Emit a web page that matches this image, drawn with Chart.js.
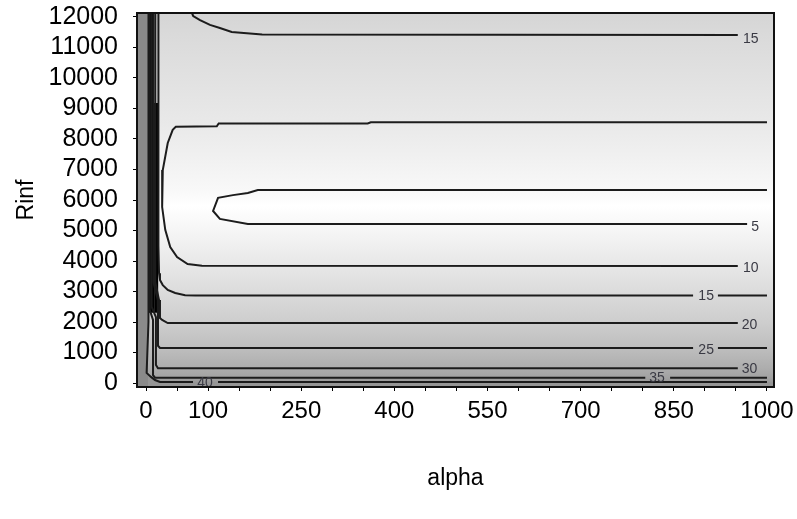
<!DOCTYPE html>
<html>
<head>
<meta charset="utf-8">
<script src="https://cdn.jsdelivr.net/npm/chart.js@4.4.0/dist/chart.umd.min.js"></script>
<style>
  html, body { margin: 0; padding: 0; background: #fff; }
</style>
</head>
<body>
<canvas id="chart" width="797" height="519"></canvas>
<script>
// Axis ranges and ticks
const alphaMin = -14.5, alphaMax = 1011.3;
const rinfMin = -131, rinfMax = 12131;
const xTickVals = [0, 50, 100, 150, 200, 250, 300, 350, 400, 450, 500, 550, 600, 650, 700, 750, 800, 850, 900, 950, 1000];
const xLabelVals = [0, 100, 250, 400, 550, 700, 850, 1000];
const yTickVals = [0, 1000, 2000, 3000, 4000, 5000, 6000, 7000, 8000, 9000, 10000, 11000, 12000];

// Contour lines as [alpha, Rinf] pairs (null Rinf = gap for the label)
const contour5 = [[1000, 6330], [180, 6330], [164, 6230], [140, 6160], [116, 6070], [108, 5640], [119, 5380], [164, 5210], [968, 5210]];
const contour10 = [[1000, 8550], [362, 8550], [357, 8510], [117, 8510], [114, 8420], [48, 8400], [43, 8300], [35, 7870], [27, 6980], [26, 5770], [31, 5020], [39, 4460], [50, 4130], [67, 3900], [90, 3845], [953, 3840]];
const contour15Top = [[74, 12131], [76, 12033], [87, 11900], [103, 11740], [119, 11640], [138, 11510], [187, 11430], [953, 11410]];
const contour15Low = [[20, 12131], [20, 4500], [21, 3600], [22.5, 3380], [27, 3210], [35, 3050], [47, 2950], [63, 2880], [80, 2870], [881, 2870], [901, null], [921, 2870], [1000, 2870]];
const contour20 = [[15, 12131], [15, 3300], [21, 2720], [22.5, 2130], [26, 2066], [35, 1967], [953, 1967]];
const contour25 = [[12, 12131], [12, 3300], [19, 2720], [19.3, 1220], [22.5, 1148], [881, 1148], [901, null], [921, 1148], [1000, 1148]];
const contour30 = [[9, 12131], [9, 2500], [16, 2160], [16, 590], [19.3, 480], [953, 480]];
const contour35 = [[6, 12131], [6, 2400], [11.3, 2070], [11.3, 260], [14.5, 174], [804, 174], [824, null], [844, 174], [1000, 174]];
const contour40 = [[4, 12131], [4, 2000], [1, 330], [8, 200], [14.5, 98], [22.5, 33], [75.7, 33], [95, null], [116, 33], [1000, 33]];

// Contour labels
const labelText = ['15', '5', '10', '15', '20', '25', '30', '35', '40'];
const labelAlpha = [974, 981, 974, 902, 972, 902, 972, 823, 95];
const labelRinf = [11279, 5115, 3770, 2852, 1902, 1082, 459, 164, 0];

// Grey shading of the field along Rinf
const shadeRinf = [-131, 33, 174, 480, 1148, 1967, 2870, 3840, 5210, 5800, 6330, 8500, 11410, 12131];
const shadeGray = [144, 153, 162, 173, 190, 205, 218, 231, 248, 255, 248, 233, 218, 213];

// Dark strips at small alpha
const leftStrip = [[-14.5, 12131], [3.2, 12131]];
const bandTop = [[3.2, 12131], [13, 12131]];
const bandMid = [[13, 9180], [20, 9180]];
const bottomShade = [[-14.5, 330], [1, 330], [8, 200], [14.5, 98], [22.5, 33], [1011.3, 33]];

const toPts = arr => arr.map(p => ({ x: p[0], y: p[1] }));
const font = 'Liberation Sans, Arial, sans-serif';

function contourSet(arr) {
    return {
        data: toPts(arr),
        borderColor: '#1c1c1c',
        borderWidth: 2,
        pointRadius: 0,
        tension: 0,
        fill: false,
        spanGaps: false,
        order: 0,
    };
}

function fillSet(arr, color, fill) {
    return {
        data: toPts(arr),
        borderWidth: 0,
        borderColor: 'rgba(0,0,0,0)',
        backgroundColor: color,
        pointRadius: 0,
        tension: 0,
        fill: fill,
        order: 10,
    };
}

// Shading, contour labels and frame
const shadePlugin = {
    id: 'shade',
    beforeDatasetsDraw(chart) {
        const { ctx, chartArea: a, scales: { y } } = chart;
        const g = ctx.createLinearGradient(0, y.getPixelForValue(rinfMin), 0, y.getPixelForValue(rinfMax));
        shadeRinf.forEach((r, i) => {
            const v = shadeGray[i];
            g.addColorStop((r - rinfMin) / (rinfMax - rinfMin), `rgb(${v},${v},${v})`);
        });
        ctx.save();
        ctx.fillStyle = g;
        ctx.fillRect(a.left, a.top, a.right - a.left, a.bottom - a.top);
        ctx.restore();
    },
    afterDatasetsDraw(chart) {
        const { ctx, chartArea: a, scales: { x, y } } = chart;
        ctx.save();
        ctx.fillStyle = '#3a3a44';
        ctx.font = '14px ' + font;
        ctx.textAlign = 'center';
        ctx.textBaseline = 'middle';
        labelText.forEach((t, i) => {
            ctx.fillText(t, x.getPixelForValue(labelAlpha[i]), y.getPixelForValue(labelRinf[i]));
        });
        ctx.strokeStyle = '#111';
        ctx.lineWidth = 2;
        ctx.strokeRect(a.left, a.top, a.right - a.left, a.bottom - a.top);
        ctx.restore();
    }
};

new Chart(document.getElementById('chart'), {
    type: 'line',
    data: {
        datasets: [
            contourSet(contour5),
            contourSet(contour10),
            contourSet(contour15Top),
            contourSet(contour15Low),
            contourSet(contour20),
            contourSet(contour25),
            contourSet(contour30),
            contourSet(contour35),
            contourSet(contour40),
            fillSet(bandTop, '#000', { value: 2300 }),
            fillSet(bandMid, '#000', { value: 2300 }),
            fillSet(leftStrip, '#8a8a8a', 'start'),
            fillSet(bottomShade, '#969696', 'start'),
        ]
    },
    options: {
        responsive: false,
        animation: false,
        events: [],
        layout: { padding: { top: 13, right: 23, left: 0, bottom: 0 } },
        plugins: {
            legend: { display: false },
            tooltip: { enabled: false },
        },
        scales: {
            x: {
                type: 'linear',
                min: alphaMin,
                max: alphaMax,
                afterBuildTicks: s => { s.ticks = xTickVals.map(v => ({ value: v })); },
                afterFit: s => { s.height = 132; s.paddingLeft = 0; s.paddingRight = 0; },
                grid: { drawOnChartArea: false, drawTicks: true, tickLength: 4, color: '#000' },
                border: { display: false },
                ticks: {
                    autoSkip: false,
                    maxRotation: 0,
                    padding: 6,
                    color: '#000',
                    font: { family: font, size: 24 },
                    callback: v => xLabelVals.includes(v) ? String(v) : '',
                },
                title: {
                    display: true,
                    text: 'alpha',
                    color: '#000',
                    font: { family: font, size: 23 },
                    padding: { top: 0, bottom: 27 },
                },
            },
            y: {
                type: 'linear',
                min: rinfMin,
                max: rinfMax,
                afterBuildTicks: s => { s.ticks = yTickVals.map(v => ({ value: v })); },
                afterFit: s => { s.width = 137; s.paddingTop = 0; s.paddingBottom = 0; },
                grid: { drawOnChartArea: false, drawTicks: true, tickLength: 4, color: '#000' },
                border: { display: false },
                ticks: {
                    autoSkip: false,
                    padding: 15,
                    color: '#000',
                    font: { family: font, size: 25 },
                    callback: v => String(v),
                },
                title: {
                    display: true,
                    text: 'Rinf',
                    color: '#000',
                    font: { family: font, size: 23 },
                    padding: { top: 13, bottom: 0 },
                },
            },
        },
    },
    plugins: [shadePlugin],
});
</script>
</body>
</html>
